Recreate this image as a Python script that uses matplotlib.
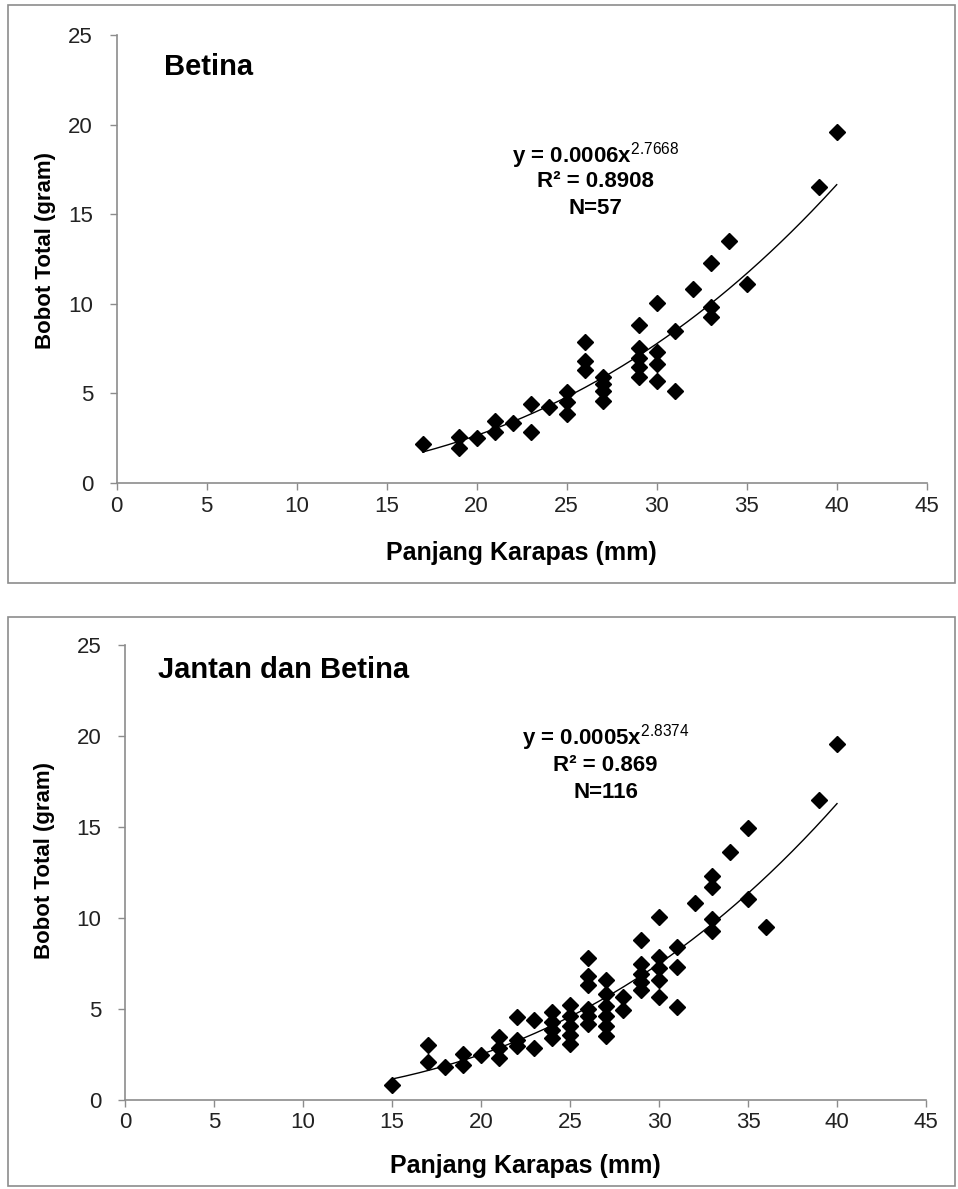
import matplotlib.pyplot as plt
import numpy as np
from matplotlib.patches import Rectangle

# Betina (females)
betina_x = [17, 19, 19, 20, 21, 21, 22, 23, 23, 24,
            25, 25, 25, 26, 26, 26, 27, 27, 27, 27,
            29, 29, 29, 29, 29, 30, 30, 30, 30, 31, 31,
            32, 33, 33, 33, 34, 35, 39, 40]
betina_y = [2.2, 2.58, 1.94, 2.53, 3.48, 2.86, 3.33, 4.41, 2.86, 4.22,
            5.1, 4.5, 3.85, 7.85, 6.8, 6.3, 5.9, 5.5, 5.15, 4.55,
            8.82, 7.52, 7.0, 6.5, 5.93, 10.06, 7.33, 6.65, 5.7, 8.46, 5.12,
            10.8, 12.3, 9.84, 9.25, 13.5, 11.1, 16.5, 19.57]

# Jantan dan Betina (all)
semua_x = [15, 17, 17, 18, 19, 19, 20, 21, 21, 21,
           22, 22, 22, 23, 23, 24, 24, 24, 24,
           25, 25, 25, 25, 25, 26, 26, 26, 26, 26, 26,
           27, 27, 27, 27, 27, 27, 28, 28,
           29, 29, 29, 29, 29, 30, 30, 30, 30, 30,
           31, 31, 31, 32, 33, 33, 33, 33, 34, 35, 35, 36, 39, 40]
semua_y = [0.8, 3.02, 2.1, 1.8, 2.52, 1.9, 2.47, 3.48, 2.84, 2.29,
           4.58, 3.3, 2.95, 4.4, 2.84, 4.85, 4.3, 3.85, 3.4,
           5.2, 4.6, 4.05, 3.55, 3.05, 7.8, 6.8, 6.3, 5.0, 4.6, 4.2,
           6.6, 5.8, 5.15, 4.6, 4.05, 3.5, 5.68, 4.95,
           8.77, 7.45, 6.9, 6.5, 6.04, 10.07, 7.88, 7.23, 6.59, 5.66,
           8.42, 7.3, 5.13, 10.84, 12.3, 11.7, 9.93, 9.3, 13.6, 14.93, 11.03, 9.52, 16.48, 19.56]

x_ticks = [0, 5, 10, 15, 20, 25, 30, 35, 40, 45]
y_ticks = [0, 5, 10, 15, 20, 25]

plt.rcParams['font.family'] = ['Liberation Sans', 'DejaVu Sans']
plt.rcParams['mathtext.fontset'] = 'custom'
plt.rcParams['mathtext.rm'] = 'Liberation Sans'
plt.rcParams['mathtext.bf'] = 'Liberation Sans:bold'

fig = plt.figure(figsize=(9.58, 11.89), dpi=100)

# panel frames
for (x0, y0, x1, y1) in [(8, 5, 955, 583), (8, 617, 955, 1186)]:
    fig.add_artist(Rectangle((x0 / 958, 1 - y1 / 1189), (x1 - x0) / 958, (y1 - y0) / 1189,
                             transform=fig.transFigure, fill=False, ec='#8c8c8c', lw=1.2))

panels = [
    dict(rect=[116.7 / 958, 1 - 483 / 1189, 810 / 958, 448 / 1189],
         x=betina_x, y=betina_y, title='Betina', title_xy=(2.65, 23.2),
         eq=('0.0006', '2.7668', '0.8908', '57'), eq_xy=(26.6, 18.3),
         xlab=-0.156, ylab=(-0.088, 0.52)),
    dict(rect=[125 / 958, 1 - 1100 / 1189, 801 / 958, 455 / 1189],
         x=semua_x, y=semua_y, title='Jantan dan Betina', title_xy=(1.85, 23.6),
         eq=('0.0005', '2.8374', '0.869', '116'), eq_xy=(27.0, 19.9),
         xlab=-0.145, ylab=(-0.1, 0.527)),
]

for p in panels:
    ax = fig.add_axes(p['rect'])
    xs = np.array(p['x'], dtype=float)
    ys = np.array(p['y'], dtype=float)
    ax.plot(xs, ys, 'D', color='black', ms=8, zorder=3)

    # power trendline (fit in log space, like Excel)
    b, loga = np.polyfit(np.log(xs), np.log(ys), 1)
    xf = np.linspace(xs.min(), xs.max(), 200)
    ax.plot(xf, np.exp(loga) * xf ** b, color='black', lw=1, zorder=2)

    ax.set_xlim(0, 45)
    ax.set_ylim(0, 25)
    ax.set_xticks(x_ticks)
    ax.set_yticks(y_ticks)
    for s in ['top', 'right']:
        ax.spines[s].set_visible(False)
    for s in ['left', 'bottom']:
        ax.spines[s].set_color('#8c8c8c')
        ax.spines[s].set_linewidth(1.2)
    ax.tick_params(direction='out', length=5, width=1, color='#8c8c8c',
                   labelsize=16, labelcolor='#222222')
    ax.tick_params(axis='y', pad=12)
    ax.tick_params(axis='x', pad=4)

    ax.set_xlabel('Panjang Karapas (mm)', fontsize=18, fontweight='bold', va='center')
    ax.xaxis.set_label_coords(0.5, p['xlab'])
    ax.set_ylabel('Bobot Total (gram)', fontsize=16, fontweight='bold', va='center')
    ax.yaxis.set_label_coords(*p['ylab'])

    ax.text(*p['title_xy'], p['title'], fontsize=21, fontweight='bold', va='center')
    c, e, r2, n = p['eq']
    ex, ey = p['eq_xy']
    ax.text(ex, ey, 'y = ' + c + 'x$^{\\mathrm{' + e + '}}$', fontsize=16,
            fontweight='bold', ha='center', va='center')
    ax.text(ex, ey - 1.5, 'R² = ' + r2, fontsize=16, fontweight='bold',
            ha='center', va='center')
    ax.text(ex, ey - 3.0, 'N=' + n, fontsize=16, fontweight='bold',
            ha='center', va='center')

fig.savefig('out.png', dpi=100)
